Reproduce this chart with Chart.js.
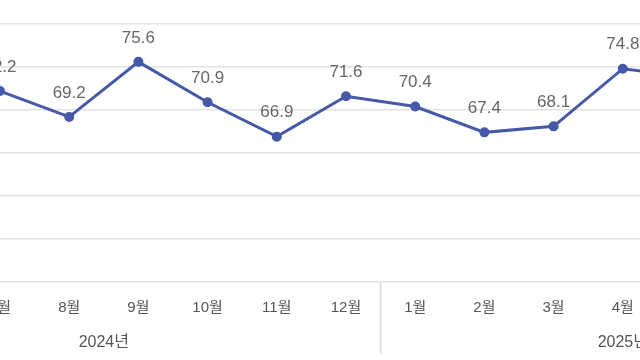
<!DOCTYPE html>
<html lang="ko">
<head>
<meta charset="utf-8">
<script src="https://cdn.jsdelivr.net/npm/chart.js@4/dist/chart.umd.min.js"></script>
<style>
    html, body { margin: 0; padding: 0; background: #fff; }
    #wrap { position: relative; width: 640px; height: 360px; overflow: hidden; }
    #chartBox { position: absolute; left: -173px; top: 0; width: 1038px; height: 360px; }
</style>
</head>
<body>
<div id="wrap">
    <div id="chartBox"><canvas id="trendChart" width="1038" height="360"></canvas></div>
</div>
<script>
// 월별 라벨 (2024년 5월 ~ 2025년 7월)
const months = ['5월', '6월', '7월', '8월', '9월', '10월', '11월', '12월',
                '1월', '2월', '3월', '4월', '5월', '6월', '7월'];
// 각 월이 속한 연도
const years = ['2024년', '2024년', '2024년', '2024년', '2024년', '2024년', '2024년', '2024년',
               '2025년', '2025년', '2025년', '2025년', '2025년', '2025년', '2025년'];
// 값 (화면 밖 값은 null)
const values = [null, null, 72.2, 69.2, 75.6, 70.9, 66.9, 71.6,
                70.4, 67.4, 68.1, 74.8, 73.8, null, null];
// y축 눈금
const yMin = 50;
const yMax = 80;
const yStep = 5;

const FONT = 'Liberation Sans, "Noto Sans CJK KR", sans-serif';

// 점 위에 값 표시
const valueLabels = {
    id: 'valueLabels',
    afterDatasetsDraw(chart) {
        const ctx = chart.ctx;
        const meta = chart.getDatasetMeta(0);
        ctx.save();
        ctx.font = '17px ' + FONT;
        ctx.fillStyle = '#666';
        ctx.textAlign = 'center';
        ctx.textBaseline = 'middle';
        meta.data.forEach((pt, i) => {
            const v = values[i];
            if (v === null || pt.skip) return;
            ctx.fillText(v.toFixed(1), pt.x, pt.y - 24);
        });
        ctx.restore();
    }
};

// 연도 구분선과 연도 라벨
const yearGroups = {
    id: 'yearGroups',
    afterDraw(chart) {
        const ctx = chart.ctx;
        const x = chart.scales.x;
        const bottom = chart.chartArea.bottom;
        const groups = [];
        years.forEach((y, i) => {
            const last = groups[groups.length - 1];
            if (last && last.label === y) last.to = i;
            else groups.push({ label: y, from: i, to: i });
        });
        ctx.save();
        ctx.strokeStyle = '#dcdcdc';
        ctx.lineWidth = 1.5;
        groups.forEach((g, k) => {
            if (k > 0) {
                const sx = (x.getPixelForValue(g.from - 1) + x.getPixelForValue(g.from)) / 2;
                ctx.beginPath();
                ctx.moveTo(sx, bottom);
                ctx.lineTo(sx, bottom + 72);
                ctx.stroke();
            }
        });
        ctx.font = '16px ' + FONT;
        ctx.fillStyle = '#555';
        ctx.textAlign = 'center';
        ctx.textBaseline = 'middle';
        groups.forEach(g => {
            const cx = (x.getPixelForValue(g.from) + x.getPixelForValue(g.to)) / 2;
            ctx.fillText(g.label, cx, bottom + 61);
        });
        ctx.restore();
    }
};

const config = {
    type: 'line',
    data: {
        labels: months,
        datasets: [{
            data: values,
            borderColor: '#4658a8',
            backgroundColor: '#4658a8',
            borderWidth: 3,
            pointRadius: 3.5,
            pointHoverRadius: 3.5,
            tension: 0,
            spanGaps: false
        }]
    },
    options: {
        responsive: false,
        animation: false,
        layout: { autoPadding: false, padding: { top: 24, left: 0, right: 0, bottom: 0 } },
        plugins: {
            legend: { display: false },
            tooltip: { enabled: false }
        },
        scales: {
            x: {
                offset: true,
                grid: { display: false, drawTicks: false },
                border: { display: false },
                ticks: {
                    color: '#555',
                    font: { size: 15, family: FONT },
                    padding: 17,
                    autoSkip: false,
                    maxRotation: 0
                },
                afterFit(axis) { axis.height = 78; }
            },
            y: {
                min: yMin,
                max: yMax,
                grid: { color: '#e2e2e2', lineWidth: 1.5, drawTicks: false },
                border: { display: false },
                ticks: { display: false, stepSize: yStep },
                afterFit(axis) { axis.width = 0; }
            }
        }
    },
    plugins: [valueLabels, yearGroups]
};

const chart = new Chart(document.getElementById('trendChart').getContext('2d'), config);
</script>
</body>
</html>
